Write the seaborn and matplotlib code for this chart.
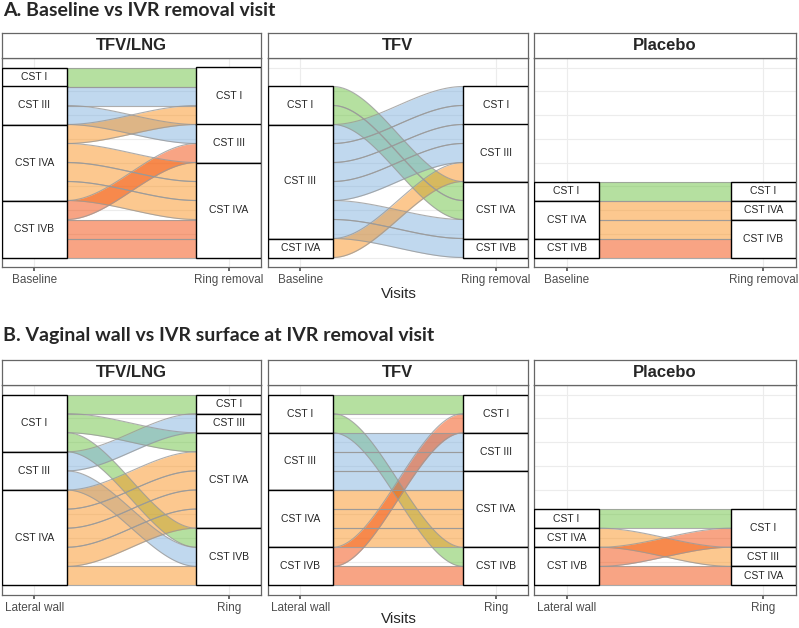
import numpy as np
import matplotlib
matplotlib.use("Agg")
import matplotlib.pyplot as plt
from matplotlib.patches import Rectangle
import seaborn as sns

sns.set_theme(style="white")
plt.rcParams["font.family"] = ["Liberation Sans", "DejaVu Sans"]

LEVELS = ["CST I", "CST III", "CST IVA", "CST IVB"]
CST_COLORS = ["#6cc342", "#82b2de", "#fa9320", "#f34b0a"]
FACETS = ["TFV/LNG", "TFV", "Placebo"]

# A. baseline -> ring removal, one entry per participant
a_tfvlng_baseline = ["CST I", "CST III", "CST III", "CST IVA", "CST IVA", "CST IVA", "CST IVA", "CST IVB", "CST IVB", "CST IVB"]
a_tfvlng_removal = ["CST I", "CST I", "CST III", "CST I", "CST IVA", "CST IVA", "CST IVA", "CST III", "CST IVA", "CST IVA"]
a_tfv_baseline = ["CST I", "CST I", "CST III", "CST III", "CST III", "CST III", "CST III", "CST III", "CST IVA"]
a_tfv_removal = ["CST IVA", "CST IVA", "CST I", "CST I", "CST III", "CST III", "CST IVA", "CST IVB", "CST III"]
a_placebo_baseline = ["CST I", "CST IVA", "CST IVA", "CST IVB"]
a_placebo_removal = ["CST I", "CST IVA", "CST IVB", "CST IVB"]

# B. lateral wall -> ring surface
b_tfvlng_wall = ["CST I", "CST I", "CST I", "CST III", "CST III", "CST IVA", "CST IVA", "CST IVA", "CST IVA", "CST IVA"]
b_tfvlng_ring = ["CST I", "CST IVA", "CST IVB", "CST III", "CST IVB", "CST IVA", "CST IVA", "CST IVA", "CST IVA", "CST IVB"]
b_tfv_wall = ["CST I", "CST I", "CST III", "CST III", "CST III", "CST IVA", "CST IVA", "CST IVA", "CST IVB", "CST IVB"]
b_tfv_ring = ["CST I", "CST IVB", "CST III", "CST III", "CST IVA", "CST IVA", "CST IVA", "CST IVA", "CST I", "CST IVB"]
b_placebo_wall = ["CST I", "CST IVA", "CST IVB", "CST IVB"]
b_placebo_ring = ["CST I", "CST III", "CST I", "CST IVA"]

a_ticks = ["Baseline", "Ring removal"]
b_ticks = ["Lateral wall", "Ring"]

W, H = 799, 628
fig = plt.figure(figsize=(W / 100, H / 100), dpi=100)


def px_axes(x0, y0, x1, y1):
    return fig.add_axes([x0 / W, 1 - y1 / H, (x1 - x0) / W, (y1 - y0) / H])


def draw_alluvial(ax, first, second, ticks):
    w = 1 / 3
    n = len(first)
    li = [LEVELS.index(s) for s in first]
    ri = [LEVELS.index(s) for s in second]
    lord = sorted(range(n), key=lambda k: (li[k], ri[k], k))
    rord = sorted(range(n), key=lambda k: (ri[k], li[k], k))
    ltop = {k: n - r for r, k in enumerate(lord)}
    rtop = {k: n - r for r, k in enumerate(rord)}

    for y in np.arange(0, 10.01, 1.25):
        ax.axhline(y, color="#ececec", lw=0.8, zorder=0)
    for x in [1, 2]:
        ax.axvline(x, color="#ececec", lw=0.8, zorder=0)

    t = np.linspace(0, 1, 80)
    s = 3 * t ** 2 - 2 * t ** 3
    xs = (1 + w / 2) + (1 - w) * t
    for k in range(n):
        top = ltop[k] + (rtop[k] - ltop[k]) * s
        ax.fill_between(xs, top - 1, top, color=CST_COLORS[li[k]], alpha=0.5, lw=0, zorder=1)
        ax.plot(xs, top, color="#999999", lw=0.8, alpha=0.8, zorder=2)
        ax.plot(xs, top - 1, color="#999999", lw=0.8, alpha=0.8, zorder=2)

    for xc, idx in [(1, li), (2, ri)]:
        y = n
        for lv in range(len(LEVELS)):
            c = idx.count(lv)
            if c == 0:
                continue
            ax.add_patch(Rectangle((xc - w / 2, y - c), w, c, fc="white", ec="black", lw=1, zorder=3))
            ax.text(xc, y - c / 2, LEVELS[lv], ha="center", va="center", fontsize=7.5, zorder=4)
            y -= c

    ax.set_xlim(0.835, 2.165)
    ax.set_ylim(-0.5, 10.5)
    ax.set_xticks([1, 2])
    ax.set_xticklabels(ticks)
    ax.set_yticks([])
    ax.tick_params(axis="x", length=3, color="#555555", labelsize=8.5, labelcolor="#4d4d4d", pad=2, bottom=True)
    for sp in ax.spines.values():
        sp.set_color("#666666")
        sp.set_linewidth(0.9)


def draw_strip(x0, x1, y0, y1, label):
    sax = px_axes(x0, y0, x1, y1)
    sax.set_xticks([])
    sax.set_yticks([])
    sax.set_facecolor("white")
    for sp in sax.spines.values():
        sp.set_color("#666666")
        sp.set_linewidth(0.9)
    sax.text(0.5, 0.5, label, ha="center", va="center", fontsize=12, fontweight="bold", transform=sax.transAxes)


cols = [(2, 261), (268, 528), (534, 796)]
rows = [
    (33, 58, 267, [(a_tfvlng_baseline, a_tfvlng_removal), (a_tfv_baseline, a_tfv_removal), (a_placebo_baseline, a_placebo_removal)], a_ticks),
    (360, 385, 595, [(b_tfvlng_wall, b_tfvlng_ring), (b_tfv_wall, b_tfv_ring), (b_placebo_wall, b_placebo_ring)], b_ticks),
]

for sy0, py0, py1, pairs, ticks in rows:
    for (x0, x1), (first, second), name in zip(cols, pairs, FACETS):
        ax = px_axes(x0, py0, x1, py1)
        draw_alluvial(ax, first, second, ticks)
        draw_strip(x0, x1, sy0, py0, name)

fig.text(3 / W, 1 - 10 / H, "A. Baseline vs IVR removal visit", fontsize=14, fontweight="bold",
         family="Lato", ha="left", va="center")
fig.text(3 / W, 1 - 336 / H, "B. Vaginal wall vs IVR surface at IVR removal visit", fontsize=14,
         fontweight="bold", family="Lato", ha="left", va="center")
fig.text(399 / W, 1 - 294 / H, "Visits", fontsize=11, ha="center", va="center")
fig.text(399 / W, 1 - 619 / H, "Visits", fontsize=11, ha="center", va="center")

fig.savefig("out.png", dpi=100)
